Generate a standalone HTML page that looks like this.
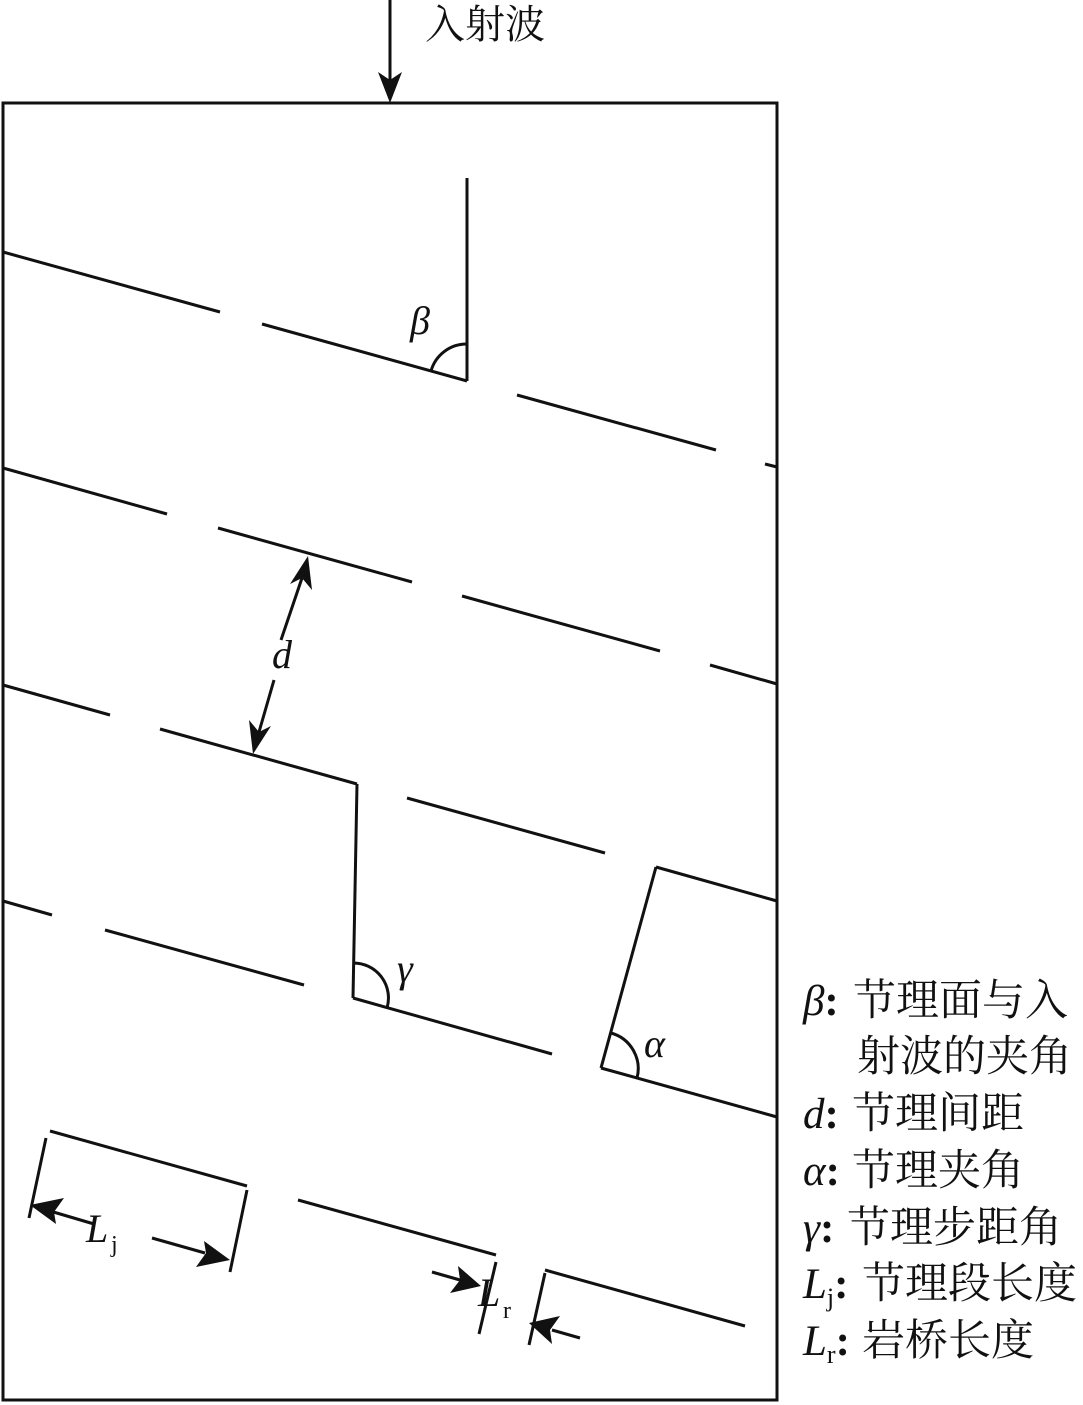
<!DOCTYPE html>
<html><head><meta charset="utf-8"><style>
html,body{margin:0;padding:0;background:#fff;}
svg{display:block;}
text{font-family:"Liberation Serif","Noto Serif CJK SC",serif;fill:#111;}
</style></head><body>
<svg width="1083" height="1405" viewBox="0 0 1083 1405" xmlns="http://www.w3.org/2000/svg">
<g stroke="#111" stroke-width="3" fill="none" stroke-linecap="butt">
<rect x="3" y="103" width="774" height="1297"/>
<line x1="390" y1="0" x2="390" y2="90"/>
<line x1="3" y1="252" x2="220" y2="312"/>
<line x1="262" y1="324" x2="467" y2="381"/>
<line x1="517" y1="395" x2="716" y2="450"/>
<line x1="765" y1="464" x2="777" y2="467"/>
<line x1="467" y1="178" x2="467" y2="381"/>
<path d="M467,344 A37,37 0 0 0 431,371"/>
<line x1="3" y1="468" x2="167" y2="514"/>
<line x1="218" y1="528" x2="412" y2="582"/>
<line x1="462" y1="596" x2="660" y2="651"/>
<line x1="710" y1="665" x2="777" y2="684"/>
<line x1="3" y1="685" x2="110" y2="715"/>
<line x1="160" y1="729" x2="357" y2="784"/>
<line x1="357" y1="784" x2="353" y2="998"/>
<line x1="407" y1="798" x2="605" y2="853"/>
<line x1="656" y1="867" x2="777" y2="901"/>
<line x1="656" y1="867" x2="601" y2="1068"/>
<line x1="3" y1="901" x2="52" y2="915"/>
<line x1="105" y1="930" x2="304" y2="985"/>
<line x1="353" y1="998" x2="552" y2="1054"/>
<line x1="601" y1="1068" x2="777" y2="1117"/>
<path d="M353,963 A35,35 0 0 1 387,1008"/>
<path d="M611,1033 A37,37 0 0 1 637,1078"/>
<line x1="50" y1="1131" x2="247" y2="1186"/>
<line x1="298" y1="1200" x2="496" y2="1255"/>
<line x1="545" y1="1270" x2="745" y2="1326"/>
<line x1="46" y1="1138" x2="29" y2="1218"/>
<line x1="247" y1="1190" x2="230" y2="1272"/>
<line x1="496" y1="1262" x2="479" y2="1334"/>
<line x1="545" y1="1273" x2="529" y2="1345"/>
<line x1="94" y1="1224" x2="50" y2="1211"/>
<line x1="152" y1="1238" x2="205" y2="1253"/>
<line x1="432" y1="1272" x2="460" y2="1280"/>
<line x1="580" y1="1338" x2="552" y2="1330"/>
<line x1="302" y1="578" x2="281" y2="640"/>
<line x1="274" y1="680" x2="259" y2="732"/>
</g>
<g fill="#111" stroke="none">
<polygon points="390,103 378,72 390,80 402,72"/>
<polygon points="308,556 312,590 302,578 290,584"/>
<polygon points="253,754 249,720 259,732 271,726"/>
<polygon points="30,1205 64,1198 54,1212 56,1224"/>
<polygon points="230,1260 196,1267 206,1253 204,1241"/>
<polygon points="481,1286 450,1293 460,1280 458,1266"/>
<polygon points="529,1323 560,1316 550,1330 552,1344"/>
</g>
<text x="425" y="38" font-size="40">入射波</text>
<text x="410" y="334" font-size="40" font-style="italic">β</text>
<text x="272" y="668" font-size="40" font-style="italic">d</text>
<text x="397" y="982" font-size="40" font-style="italic">γ</text>
<text x="644" y="1057" font-size="40" font-style="italic">α</text>
<text x="86" y="1242" font-size="40" font-style="italic">L</text><text x="111" y="1252" font-size="24">j</text>
<text x="478" y="1306" font-size="40" font-style="italic">L</text><text x="503" y="1318" font-size="24">r</text>
<g font-size="43">
<text x="803" y="1015"><tspan font-style="italic">β</tspan><tspan font-weight="bold">:</tspan><tspan x="853">节理面与入</tspan></text>
<text x="857" y="1071">射波的夹角</text>
<text x="803" y="1128"><tspan font-style="italic">d</tspan><tspan font-weight="bold">:</tspan><tspan x="852">节理间距</tspan></text>
<text x="803" y="1185"><tspan font-style="italic">α</tspan><tspan font-weight="bold">:</tspan><tspan x="852">节理夹角</tspan></text>
<text x="803" y="1242"><tspan font-style="italic">γ</tspan><tspan font-weight="bold">:</tspan><tspan x="847">节理步距角</tspan></text>
<text x="803" y="1298"><tspan font-style="italic">L</tspan><tspan font-size="26" dy="8">j</tspan><tspan font-weight="bold" dy="-8">:</tspan><tspan x="862">节理段长度</tspan></text>
<text x="803" y="1355"><tspan font-style="italic">L</tspan><tspan font-size="26" dy="8">r</tspan><tspan font-weight="bold" dy="-8">:</tspan><tspan x="862">岩桥长度</tspan></text>
</g>
</svg>
</body></html>
